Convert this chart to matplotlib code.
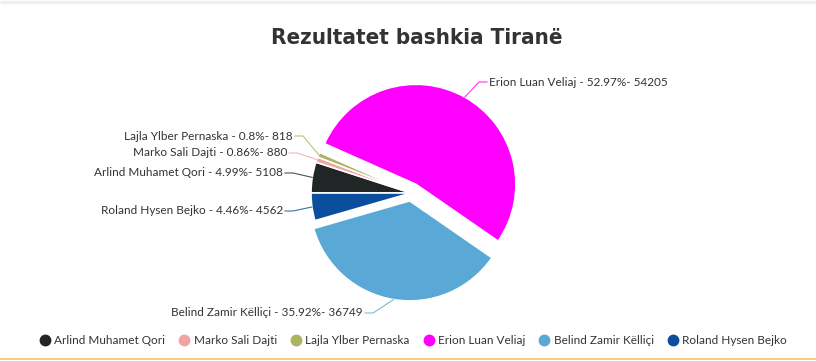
import matplotlib
matplotlib.use("Agg")
import matplotlib.pyplot as plt
from matplotlib import font_manager
from matplotlib.lines import Line2D
import numpy as np

# Data
candidates = ["Arlind Muhamet Qori", "Marko Sali Dajti", "Lajla Ylber Pernaska",
              "Erion Luan Veliaj", "Belind Zamir Këlliçi", "Roland Hysen Bejko"]
votes = [5108, 880, 818, 54205, 36749, 4562]
percents = ["4.99", "0.86", "0.8", "52.97", "35.92", "4.46"]
colors = ["#222526", "#f4a3a3", "#abb45e", "#ff00ff", "#59a8d5", "#0c4e9e"]

# Layout (pixels, origin top-left)
W, H = 816, 361
cx, cy, R = 411, 193, 100
explode = [0, 0, 0, 10, 8, 0]
label_pos = [(283, 173, "right"), (287, 153, "right"), (293, 136, "right"),
             (489, 82, "left"), (363, 313, "right"), (283, 211, "right")]

font_lbl = ["Lato", "DejaVu Sans"]
txt_col = "#333333"

# narrow bold font for the title, if one is installed
title_font = None
for f in font_manager.fontManager.ttflist:
    n = f.name.lower()
    if ("narrow" in n or "condensed" in n or f.stretch in ("condensed", "semi-condensed")) \
            and f.weight in ("bold", 700, "heavy", 800, 900):
        title_font = f.fname
        break

fig = plt.figure(figsize=(W / 100, H / 100), dpi=100)
ax = fig.add_axes([0, 0, 1, 1])

wedges, _ = ax.pie(votes, colors=colors, startangle=180, counterclock=False,
                   center=(cx, H - cy), radius=R, explode=explode,
                   wedgeprops=dict(edgecolor="white", linewidth=1.2))
ax.set_xlim(0, W)
ax.set_ylim(0, H)
ax.set_aspect("equal")
ax.axis("off")

# Labels with connectors
for w, name, p, v, c, (lx, ly, ha) in zip(wedges, candidates, percents, votes, colors, label_pos):
    ang = np.deg2rad((w.theta1 + w.theta2) / 2)
    wx, wy = w.center
    ex, ey = wx + R * np.cos(ang), wy + R * np.sin(ang)
    ly_d = H - ly
    sgn = 1 if ha == "right" else -1
    x0 = lx + sgn * 2
    x1 = lx + sgn * 10
    ax.plot([x0, x1, ex], [ly_d, ly_d, ey], color=c, lw=0.8, alpha=0.8)
    ax.text(lx, ly_d, f"{name} - {p}%- {v}", ha=ha, va="center",
            fontsize=8.5, color=txt_col, family=font_lbl)

# Title
if title_font:
    tprop = font_manager.FontProperties(fname=title_font, size=16)
else:
    tprop = font_manager.FontProperties(family="DejaVu Sans", weight="bold",
                                        stretch="condensed", size=15)
ax.text(417, H - 38, "Rezultatet bashkia Tiranë", ha="center", va="center",
        color="#333333", fontproperties=tprop)

# Frame lines
ax.plot([0, W], [H - 1.5, H - 1.5], color="#f0f0f0", lw=2.5, solid_capstyle="butt")
ax.plot([0, W], [2, 2], color="#f2c46d", lw=1.2, solid_capstyle="butt")

# Legend
handles = [Line2D([], [], marker="o", ls="", markersize=7.5, markerfacecolor=c,
                  markeredgecolor=c) for c in colors]
fig.legend(handles, candidates, loc="center", ncol=6, frameon=False,
           bbox_to_anchor=(413 / W, 1 - 341 / H), handletextpad=0.3,
           columnspacing=1.1, handlelength=1.0,
           prop=dict(family=font_lbl, size=8.5), labelcolor=txt_col)

fig.savefig("out.png", dpi=100)
